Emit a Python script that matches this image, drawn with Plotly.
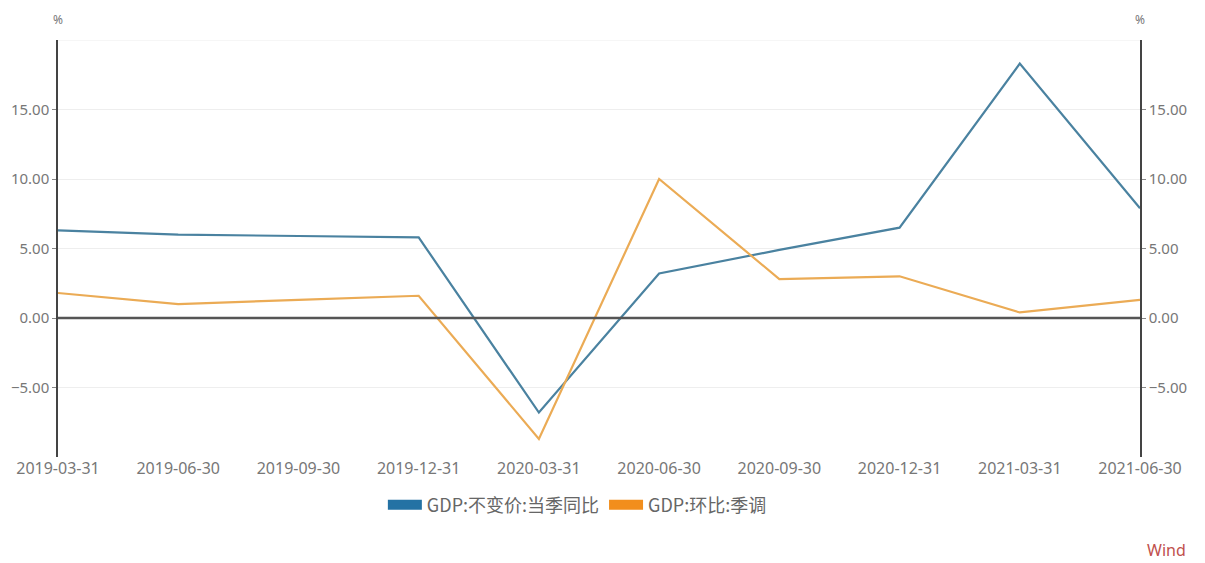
import plotly.graph_objects as go

dates = ["2019-03-31", "2019-06-30", "2019-09-30", "2019-12-31", "2020-03-31",
         "2020-06-30", "2020-09-30", "2020-12-31", "2021-03-31", "2021-06-30"]
gdp_yoy = [6.3, 6.0, 5.9, 5.8, -6.8, 3.2, 4.9, 6.5, 18.3, 7.9]
gdp_qoq = [1.8, 1.0, 1.3, 1.6, -8.7, 10.0, 2.8, 3.0, 0.4, 1.3]
name_yoy = "GDP:不变价:当季同比"
name_qoq = "GDP:环比:季调"
y_ticks = [-5, 0, 5, 10, 15]

blue_line = "#4a82a0"
orange_line = "#ebab55"
blue_leg = "#2472a4"
orange_leg = "#f28e1c"

W, H = 1197, 555
ML, MR, MT, MB = 50, 65, 32, 106
PW, PH = W - ML - MR, H - MT - MB

fig = go.Figure()
fig.add_trace(go.Scatter(x=dates, y=gdp_yoy, mode="lines", line=dict(color=blue_line, width=2.2),
                         showlegend=False))
fig.add_trace(go.Scatter(x=dates, y=gdp_qoq, mode="lines", line=dict(color=orange_line, width=2.2),
                         showlegend=False, yaxis="y2"))
# legend swatches
fig.add_trace(go.Scatter(x=[None], y=[None], mode="lines", name=name_yoy,
                         line=dict(color=blue_leg, width=15)))
fig.add_trace(go.Scatter(x=[None], y=[None], mode="lines", name=name_qoq,
                         line=dict(color=orange_leg, width=15)))

ytick_font = dict(family="Noto Sans, DejaVu Sans, sans-serif", size=15, color="#777777")
xtick_font = dict(family="Noto Sans, DejaVu Sans, sans-serif", size=16, color="#777777")
common_y = dict(range=[-10, 20], tickvals=y_ticks, tickformat=".2f", showline=True,
                linecolor="#444444", linewidth=1.5, ticks="outside", ticklen=4,
                tickcolor="#888888", tickfont=ytick_font, zeroline=False, automargin=False)

fig.update_layout(
    width=W, height=H,
    margin=dict(l=ML, r=MR, t=MT, b=MB),
    plot_bgcolor="white", paper_bgcolor="white",
    xaxis=dict(type="category", range=[0, 9], showgrid=False, tickfont=xtick_font,
               ticks="", showline=False, zeroline=False, automargin=False),
    yaxis=dict(**common_y, showgrid=True, gridcolor="#eeeeee", gridwidth=1),
    yaxis2=dict(**common_y, overlaying="y", side="right", showgrid=False),
    legend=dict(orientation="h", x=0.48, xanchor="center", y=-48 / PH, yanchor="middle",
                font=dict(family="Noto Sans CJK SC, sans-serif", size=18, color="#666666"),
                itemwidth=34),
    showlegend=True,
)
# zero line
fig.add_hline(y=0, line=dict(color="#555555", width=2.5))
# top grid line
fig.add_hline(y=20, line=dict(color="#eeeeee", width=1))

pct_font = dict(family="Noto Sans", size=12, color="#777777")
fig.add_annotation(x=0, y=1 + 21 / PH, xref="paper", yref="paper", text="%", showarrow=False,
                   xanchor="center", yanchor="middle", borderpad=0, font=pct_font)
fig.add_annotation(x=1, y=1 + 21 / PH, xref="paper", yref="paper", text="%", showarrow=False,
                   xanchor="center", yanchor="middle", borderpad=0, font=pct_font)
fig.add_annotation(x=(1180 - ML) / PW, y=-(542 - (MT + PH)) / PH, xref="paper", yref="paper",
                   text="Wind", showarrow=False, xanchor="right", yanchor="middle",
                   font=dict(family="Noto Sans", size=16, color="#c0504d"))

fig.write_html("out.html")
